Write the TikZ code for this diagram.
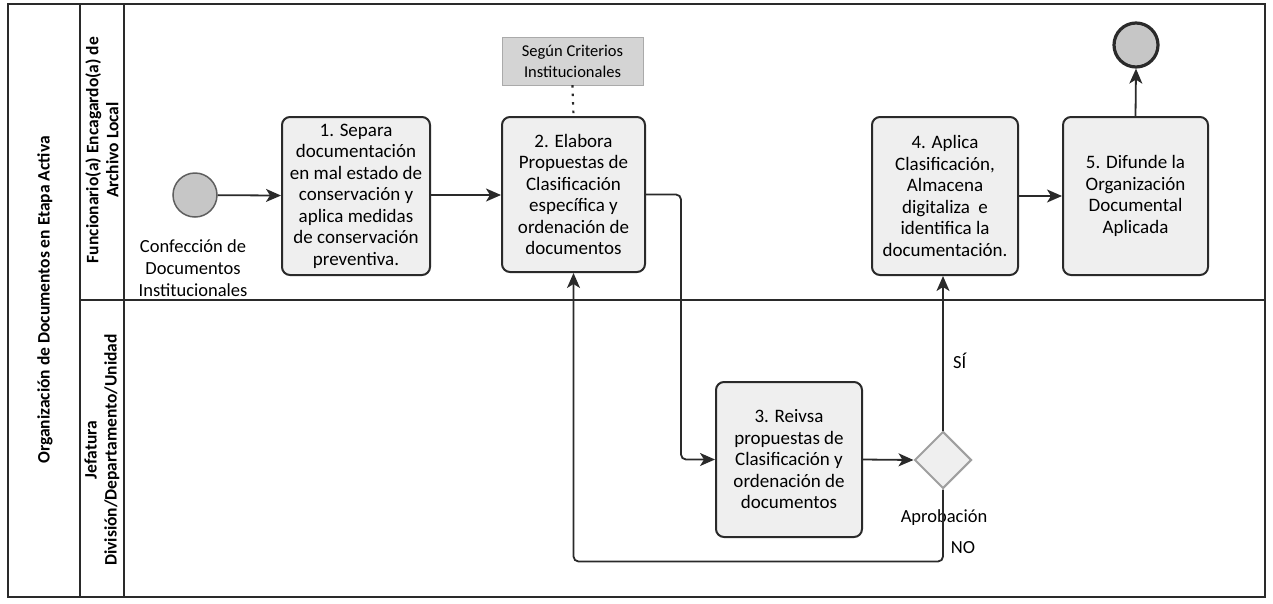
\documentclass[tikz,border=0pt]{standalone}
\usepackage{fontspec}
\setmainfont{Carlito}
\usetikzlibrary{shapes.geometric,arrows.meta}
\definecolor{boxfill}{HTML}{EFEFEF}
\definecolor{circfill}{HTML}{C6C6C6}
\definecolor{notefill}{HTML}{D4D4D4}
\definecolor{dline}{HTML}{2A2A2A}
\tikzset{
  task/.style={draw=dline, line width=2pt, rounded corners=8pt, fill=boxfill, align=center,
    font=\fontsize{19}{21.5}\selectfont, inner sep=1pt},
  flow/.style={draw=dline, line width=1.8pt, -{Stealth[length=15pt,width=13pt,inset=4pt]}, rounded corners=5pt},
  lanelbl/.style={rotate=90, font=\bfseries\fontsize{17.5}{20}\selectfont, align=center},
  lbl/.style={font=\fontsize{18.5}{22}\selectfont, align=center},
}
\begin{document}
\begin{tikzpicture}[x=1pt,y=-1pt]
\useasboundingbox (0,0) rectangle (1273,603);
% pool and lanes
\draw[line width=1.4pt, draw=dline] (8,4) rectangle (1265,597);
\draw[line width=1.4pt, draw=dline] (80,4) -- (80,597);
\draw[line width=1.4pt, draw=dline] (124,4) -- (124,597);
\draw[line width=1.4pt, draw=dline] (80,300) -- (1265,300);
\node[lanelbl] (pool) at (45,300) {Organización de Documentos en Etapa Activa};
\node[lanelbl] (lane1) at (102,150) {Funcionario(a) Encagardo(a) de\\Archivo Local};
\node[lanelbl] (lane2) at (102,450) {Jefatura\\División/Departamento/Unidad};
% events
\node[circle, draw=dline!75, line width=1.5pt, fill=circfill, minimum size=44pt, inner sep=0] (start) at (195,195) {};
\node[lbl] (startlbl) at (193,268) {Confección de\\Documentos\\Institucionales};
\node[circle, draw=dline, line width=3.2pt, fill=circfill, minimum size=44pt, inner sep=0] (end) at (1136,45) {};
% tasks
\node[task, minimum width=148pt, minimum height=158pt] (b1) at (356,196)
  {1. Separa\\documentación\\en mal estado de\\conservación y\\aplica medidas\\de conservación\\preventiva.};
\node[task, minimum width=143pt, minimum height=155pt] (b2) at (573.5,194.5)
  {2. Elabora\\Propuestas de\\Clasificación\\específica y\\ordenación de\\documentos};
\node[task, minimum width=146pt, minimum height=155pt] (b3) at (789,459.5)
  {3. Reivsa\\propuestas de\\Clasificación y\\ordenación de\\documentos};
\node[task, minimum width=146pt, minimum height=158pt] (b4) at (945,196)
  {4. Aplica\\Clasificación,\\Almacena\\digitaliza\ \ e\\identifica la\\documentación.};
\node[task, minimum width=145pt, minimum height=158pt] (b5) at (1135.5,196)
  {5. Difunde la\\Organización\\Documental\\Aplicada};
% annotation
\node[fill=notefill, draw=notefill!80!black, line width=0.4pt, minimum width=141pt, minimum height=48pt, align=center,
  font=\fontsize{16.5}{21}\selectfont] (note) at (572.5,61) {Según Criterios\\Institucionales};
\draw[dline, line width=2.2pt, dash pattern=on 2.5pt off 6pt] (note.south) -- (b2.north);
% gateway
\node[diamond, draw=gray!75, line width=2pt, fill=boxfill, minimum width=57pt, minimum height=57pt, inner sep=0, aspect=1] (gw) at (943,460) {};
\node[lbl] (gwlbl) at (944,518) {Aprobación};
% flows
\draw[flow] (start) -- (b1);
\draw[flow] (b1.east |- start) -- (b2.west |- start);
\draw[flow] (b2.east) -- ++(35,0) |- (b3.west);
\draw[flow] (b3.east) -- (gw.west);
\draw[flow] (gw.north) -- (gw.north |- b4.south) node[pos=0.45, right=6pt, lbl] (si) {SÍ};
\draw[flow] (gw.south) -- ++(0,72) -| (b2.south);
\node[lbl] (no) at (963,548) {NO};
\draw[flow] (b4.east) -- (b5.west);
\draw[flow] (b5.north) -- (end.south);
\end{tikzpicture}
\end{document}
